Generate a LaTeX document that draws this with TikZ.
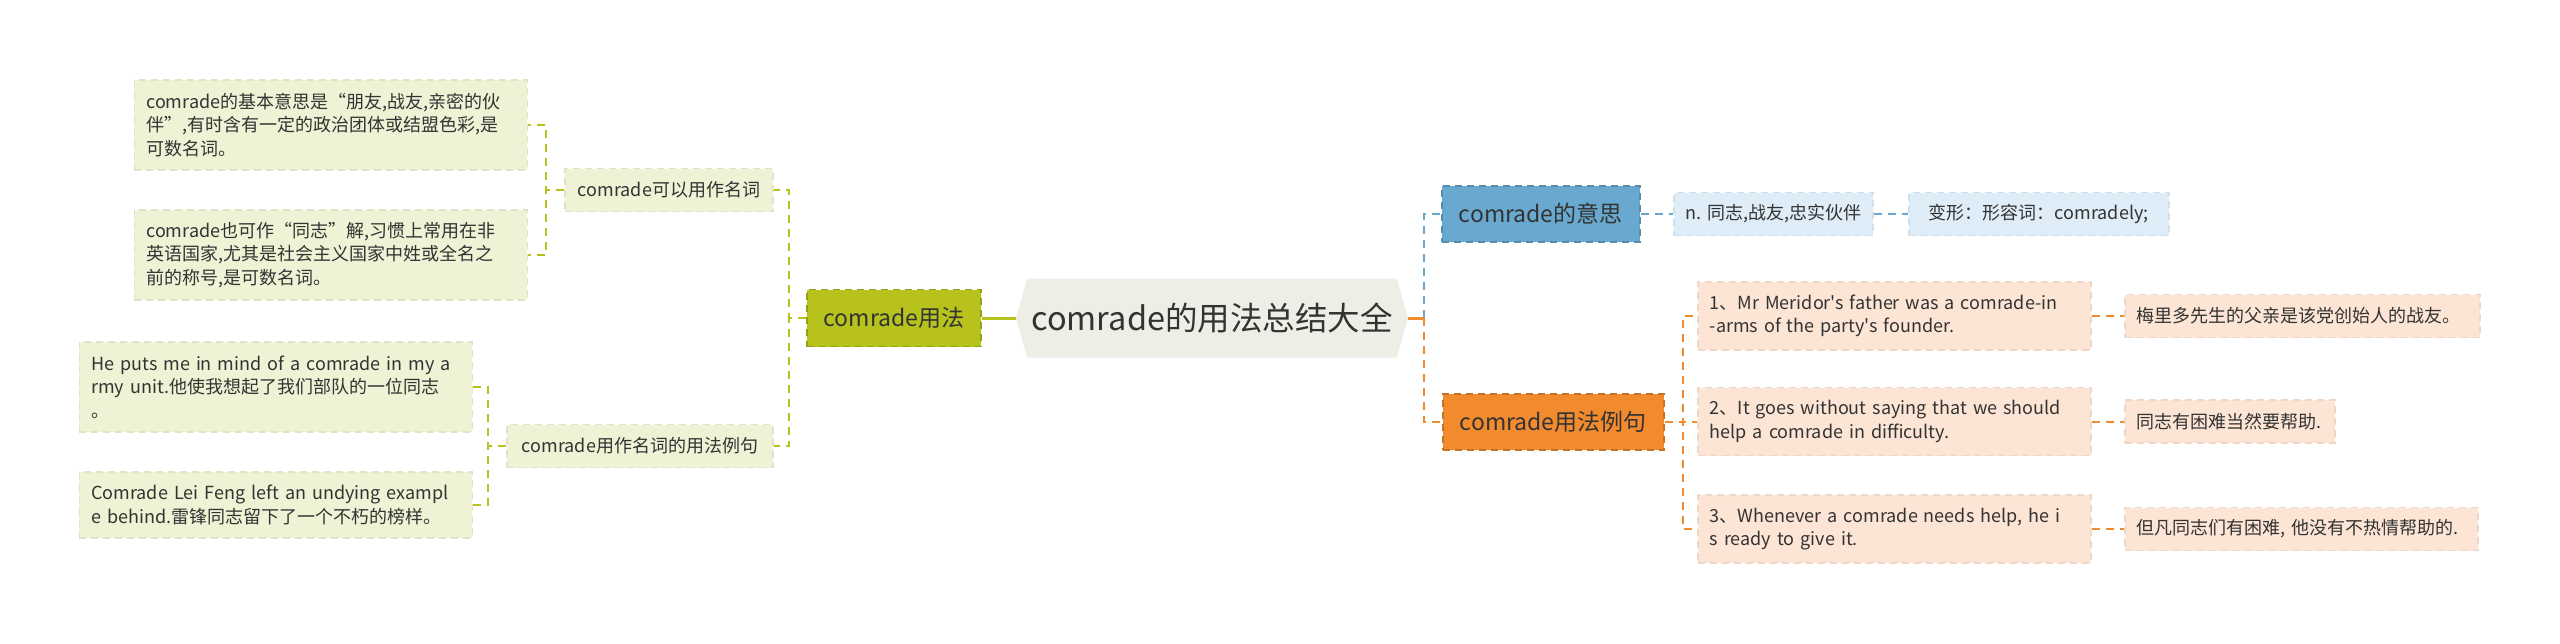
\documentclass[tikz,border=0pt]{standalone}
\usepackage{fontspec}
\setmainfont{Noto Sans CJK SC}[Ligatures=TeXOff]
\usetikzlibrary{backgrounds}
\definecolor{cgreen}{HTML}{B7C21D}
\definecolor{cpale}{HTML}{EFF2D4}
\definecolor{croot}{HTML}{EEEEE6}
\definecolor{cblue}{HTML}{69A9CF}
\definecolor{cbluel}{HTML}{DEEDF7}
\definecolor{corange}{HTML}{F28B2E}
\definecolor{corangel}{HTML}{FCE5D4}
\definecolor{ctext}{HTML}{333333}
\tikzset{
  every picture/.style={x=1pt, y=-1pt, line width=2pt},
  box/.style={draw=#1!82!black, fill=#1, dash pattern=on 7pt off 5pt, line width=1.5pt, inner sep=0pt, inner xsep=12pt, align=left, text=ctext},
  leaf/.style={box=#1, draw=#1!94!black, anchor=west, font=\fontsize{18}{23.5}\selectfont},
  top/.style={box=#1, minimum height=56pt, font=\fontsize{23}{28}\selectfont},
  link/.style={draw=#1, dash pattern=on 8pt off 6pt, line width=2pt},
}

\begin{document}
\begin{tikzpicture}[mid/.style={box=cpale, draw=cpale!94!black, minimum height=43pt, font=\fontsize{18}{22}\selectfont}]
  \useasboundingbox (0,0) rectangle (2560,643);
  \node[inner sep=0pt, minimum width=390pt, minimum height=77pt, font=\fontsize{32.5}{40}\selectfont, text=ctext] (root) at (1212,318) {comrade的用法总结大全};
  \begin{scope}[on background layer]
    \fill[croot] ([xshift=11pt]root.north west) -- ([xshift=-11pt]root.north east) -- (root.east) -- ([xshift=-11pt]root.south east) -- ([xshift=11pt]root.south west) -- (root.west) -- cycle;
  \end{scope}

  % left branch
  \node[top=cgreen, minimum width=174pt, minimum height=57pt] (use) at (894,318) {comrade用法};
  \node[mid, minimum width=208pt] (noun) at (669,190) {comrade可以用作名词};
  \node[mid, minimum width=266pt] (nounex) at (640,446) {comrade用作名词的用法例句};
  \draw[cgreen, line width=3pt] (root.west) -- (use.east);
  \draw[link=cgreen] (use.west) -- ++(-17,0) |- (noun.east);
  \draw[link=cgreen] (use.west) -- ++(-17,0) |- (nounex.east);
  \foreach \n/\p/\x/\y/\h/\t in {
     def1/noun/528/125/90/{comrade的基本意思是“朋友,战友,亲密的伙\\伴”,有时含有一定的政治团体或结盟色彩,是\\可数名词。},
     def2/noun/528/255/90/{comrade也可作“同志”解,习惯上常用在非\\英语国家,尤其是社会主义国家中姓或全名之\\前的称号,是可数名词。},
     ex1/nounex/473/387/90/{He puts me in mind of a comrade in my a\\rmy unit.他使我想起了我们部队的一位同志\\。},
     ex2/nounex/473/505/66/{Comrade Lei Feng left an undying exampl\\e behind.雷锋同志留下了一个不朽的榜样。}} {
    \node[leaf=cpale, anchor=east, text width=369pt, minimum height=\h pt] (\n) at (\x,\y) {\t};
    \draw[link=cgreen] (\p.west) -- ++(-18,0) |- (\n.east);
  }

  % right branch
  \draw[corange, line width=3pt] (root.east) -- ++(16,0) coordinate (rj);
  \node[top=cblue, minimum width=198pt, anchor=west] (mean) at (1441,214) {comrade的意思};
  \node[leaf=cbluel, minimum width=199pt, minimum height=43pt] (mean1) at (1673,214) {n. 同志,战友,忠实伙伴};
  \node[leaf=cbluel, minimum width=260pt, minimum height=43pt] (mean2) at (1908,214) {变形：形容词：comradely;};
  \draw[link=cblue] (rj) |- (mean.west);
  \draw[link=cblue] (mean) -- (mean1);
  \draw[link=cblue] (mean1) -- (mean2);
  \node[top=corange, minimum width=221pt, anchor=west] (sent) at (1442,422) {comrade用法例句};
  \draw[link=corange] (rj) |- (sent.west);
  \foreach \k/\y/\w/\s/\z in {
     1/316/331/{1、Mr Meridor's father was a comrade-in\\-arms of the party's founder.}/{梅里多先生的父亲是该党创始人的战友。},
     2/421.5/186/{2、It goes without saying that we should\\help a comrade in difficulty.}/{同志有困难当然要帮助.},
     3/529/329/{3、Whenever a comrade needs help, he i\\s ready to give it.}/{但凡同志们有困难, 他没有不热情帮助的.}} {
    \node[leaf=corangel, text width=369pt, minimum height=68pt] (sen\k) at (1697,\y) {\s};
    \node[leaf=corangel, text width=\w pt, minimum height=43pt] (zh\k) at (2124,\y) {\z};
    \draw[link=corange] (sent.east) -- ++(18,0) |- (sen\k.west);
    \draw[link=corange] (sen\k) -- (zh\k);
  }
\end{tikzpicture}
\end{document}
